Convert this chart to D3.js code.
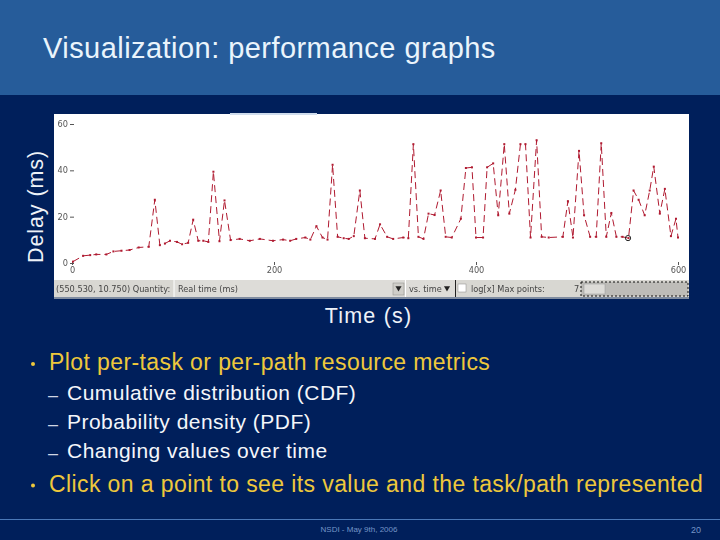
<!DOCTYPE html>
<html>
<head>
<meta charset="utf-8">
<script src="https://cdn.jsdelivr.net/npm/d3@7"></script>
<style>
  html, body { margin: 0; padding: 0; background: #001f5b; overflow: hidden; }
  svg { display: block; }
  text { font-family: "Liberation Sans", Arial, sans-serif; }
</style>
</head>
<body>
<script>
// values
const taskTimes = [1, 11, 18, 24, 34, 41, 49, 57, 66, 76, 82, 87, 92, 97, 104, 109, 115, 120, 125, 130, 135, 140, 146, 151, 157, 166, 176, 186, 199, 209, 216, 222, 231, 236, 242, 248, 253, 258, 263, 269, 274, 279, 285, 290, 300, 305, 312, 318, 328, 333, 338, 343, 348, 353, 359, 365, 370, 376, 385, 390, 396, 400, 407, 411, 417, 422, 428, 433, 439, 444, 449, 454, 460, 465, 472, 486, 491, 496, 502, 507, 513, 519, 524, 529, 534, 539, 545, 551, 556, 561, 567, 572, 576, 582, 587, 593, 598, 600];
const taskDelays = [0.6, 3.1, 3.4, 3.7, 3.7, 5, 5.3, 5.6, 6.7, 7, 27.3, 7.7, 8.4, 9.6, 9.1, 8.1, 8.7, 18.7, 9.6, 9.6, 9.1, 39.4, 9.4, 27, 9.9, 10.4, 9.6, 10.4, 9.6, 10.1, 9.6, 10.4, 11, 10.1, 15.9, 11, 10.1, 42.4, 11.3, 10.7, 10.4, 11.6, 31.3, 10.7, 10.4, 16.7, 11.3, 10.4, 11, 10.7, 51.3, 11.3, 10.4, 21.3, 20.7, 31.3, 11.3, 11, 19.1, 41, 41.3, 11, 11, 41.3, 43, 20.6, 51.3, 21.3, 31.6, 51.3, 51.3, 11, 53, 11.3, 11, 11.3, 26.7, 11, 48.4, 20.6, 11.3, 11.3, 51.7, 11.3, 21.6, 11.3, 11.3, 10.75, 31.3, 27.3, 20.6, 31.3, 41.6, 21.3, 32, 11.6, 19.1, 11];
const xTicks = [0, 200, 400, 600];
const yTicks = [0, 20, 40, 60];
const selectedPoint = [550.53, 10.75];

const subBullets = ["Cumulative distribution (CDF)", "Probability density (PDF)", "Changing values over time"];

const svg = d3.select("body").append("svg")
  .attr("width", 720)
  .attr("height", 540);

const defs = svg.append("defs");
defs.append("filter").attr("id", "soft")
  .append("feGaussianBlur").attr("stdDeviation", 0.4);

// slide background
svg.append("rect").attr("width", 720).attr("height", 540).attr("fill", "#001f5b");
svg.append("rect").attr("width", 720).attr("height", 95).attr("fill", "#265c9a");

svg.append("text")
  .attr("x", 43).attr("y", 58)
  .attr("font-size", 29)
  .attr("letter-spacing", 0.45)
  .attr("fill", "#eaf4fc")
  .text("Visualization: performance graphs");

// screenshot panel
const shot = svg.append("g").attr("filter", "url(#soft)");
shot.append("rect").attr("x", 54).attr("y", 114).attr("width", 635).attr("height", 166).attr("fill", "#ffffff");
shot.append("rect").attr("x", 230).attr("y", 113).attr("width", 87).attr("height", 2).attr("fill", "#cfdcec");

// toolbar under the plot
shot.append("rect").attr("x", 54).attr("y", 280).attr("width", 635).attr("height", 17).attr("fill", "#d8d7d2");
shot.append("rect").attr("x", 54).attr("y", 297).attr("width", 635).attr("height", 2).attr("fill", "#7f8ca0");
shot.append("rect").attr("x", 174).attr("y", 280).attr("width", 231).attr("height", 17).attr("fill", "#dddcd8");
shot.append("line").attr("x1", 174).attr("x2", 174).attr("y1", 280).attr("y2", 297).attr("stroke", "#ffffff");
shot.append("rect").attr("x", 393).attr("y", 283).attr("width", 11).attr("height", 12).attr("fill", "#cfcec9").attr("stroke", "#8a8a86").attr("stroke-width", 0.5);
shot.append("rect").attr("x", 406).attr("y", 280).attr("width", 50).attr("height", 17).attr("fill", "#dddcd8");
shot.append("line").attr("x1", 405.5).attr("x2", 405.5).attr("y1", 280).attr("y2", 297).attr("stroke", "#ffffff");
shot.append("line").attr("x1", 455.5).attr("x2", 455.5).attr("y1", 280).attr("y2", 297).attr("stroke", "#222222");
shot.append("rect").attr("x", 458).attr("y", 284).attr("width", 8).attr("height", 8).attr("fill", "#ffffff").attr("stroke", "#888888").attr("stroke-width", 0.5);
shot.append("rect").attr("x", 581).attr("y", 282).attr("width", 107).attr("height", 14).attr("fill", "#bdbcb8")
  .attr("stroke", "#111111").attr("stroke-dasharray", "2,2");
shot.append("rect").attr("x", 584).attr("y", 284).attr("width", 21).attr("height", 10).attr("fill", "#dddcd8").attr("stroke", "#999999").attr("stroke-width", 0.5);

const arrow = d3.symbol().type(d3.symbolTriangle).size(16);
[398.5, 447].forEach(px => {
  shot.append("path").attr("d", arrow()).attr("transform", `translate(${px},288) rotate(180)`).attr("fill", "#222222");
});

const toolbarTexts = [
  ["(550.530, 10.750)  Quantity:", 56],
  ["Real time (ms)", 178],
  ["vs. time", 409],
  ["log[x] Max points:", 471],
  ["7", 574]
];
shot.selectAll(".tool")
  .data(toolbarTexts)
  .join("text")
  .attr("class", "tool")
  .attr("x", d => d[1])
  .attr("y", 292)
  .attr("font-size", 8.2)
  .attr("fill", "#444444")
  .style("font-family", "DejaVu Sans")
  .text(d => d[0]);

// plot
const x = d3.scaleLinear().domain([0, 600]).range([72, 678]);
const y = d3.scaleLinear().domain([0, 60]).range([263, 124]);

const xAxis = shot.append("g")
  .attr("transform", "translate(0,262)")
  .call(d3.axisBottom(x).tickValues(xTicks).tickSize(3).tickPadding(2));
const yAxis = shot.append("g")
  .attr("transform", "translate(70,0)")
  .call(d3.axisLeft(y).tickValues(yTicks).tickSizeInner(-4).tickSizeOuter(0).tickPadding(2));
[xAxis, yAxis].forEach(a => {
  a.select(".domain").remove();
  a.selectAll("text").attr("fill", "#555555").attr("font-size", 8.2).style("font-family", "DejaVu Sans");
  a.selectAll("line").attr("stroke", "#555555");
});

const points = taskTimes.map((t, i) => [t, taskDelays[i]]);

shot.append("path")
  .datum(points)
  .attr("fill", "none")
  .attr("stroke", "#b01a30")
  .attr("stroke-width", 1)
  .attr("stroke-dasharray", "7,4")
  .attr("d", d3.line().x(d => x(d[0])).y(d => y(d[1])));

shot.selectAll(".pt")
  .data(points)
  .join("rect")
  .attr("class", "pt")
  .attr("x", d => x(d[0]) - 1)
  .attr("y", d => y(d[1]) - 1)
  .attr("width", 2)
  .attr("height", 2)
  .attr("fill", "#b01a30");

shot.append("circle")
  .attr("cx", x(selectedPoint[0]))
  .attr("cy", y(selectedPoint[1]))
  .attr("r", 2.6)
  .attr("fill", "none")
  .attr("stroke", "#222222")
  .attr("stroke-width", 1);

// axis captions
svg.append("text")
  .attr("transform", "translate(43,206.5) rotate(-90)")
  .attr("text-anchor", "middle")
  .attr("font-size", 21.5)
  .attr("letter-spacing", 0.9)
  .attr("fill", "#eef2f8")
  .text("Delay (ms)");

svg.append("text")
  .attr("x", 368.5).attr("y", 323)
  .attr("text-anchor", "middle")
  .attr("font-size", 21.5)
  .attr("letter-spacing", 1.2)
  .attr("fill", "#eef2f8")
  .text("Time (s)");

// bullets
const bullets = [
  ["Plot per-task or per-path resource metrics", 370],
  ["Click on a point to see its value and the task/path represented", 491.5]
];
svg.selectAll(".bullet")
  .data(bullets)
  .join("text")
  .attr("class", "bullet")
  .attr("x", 49)
  .attr("y", d => d[1])
  .attr("font-size", 23)
  .attr("letter-spacing", 0.4)
  .attr("fill", "#eec83c")
  .text(d => d[0]);
svg.selectAll(".dot")
  .data(bullets)
  .join("circle")
  .attr("class", "dot")
  .attr("cx", 33)
  .attr("cy", d => d[1] - 6)
  .attr("r", 2)
  .attr("fill", "#eec83c");

const subY = d3.scalePoint().domain(subBullets).range([400, 457.5]);
svg.selectAll(".sub")
  .data(subBullets)
  .join("text")
  .attr("class", "sub")
  .attr("x", 67)
  .attr("y", d => subY(d))
  .attr("font-size", 21)
  .attr("letter-spacing", 0.48)
  .attr("fill", "#f4f6fa")
  .text(d => d);
svg.selectAll(".dash")
  .data(subBullets)
  .join("text")
  .attr("class", "dash")
  .attr("x", 48)
  .attr("y", d => subY(d) + 1)
  .attr("font-size", 18)
  .attr("fill", "#d0d6e4")
  .text("–");

// footer
svg.append("line")
  .attr("x1", 0).attr("x2", 720).attr("y1", 519.5).attr("y2", 519.5)
  .attr("stroke", "#4a78b8").attr("stroke-width", 1);
svg.append("text")
  .attr("x", 359).attr("y", 532)
  .attr("text-anchor", "middle")
  .attr("font-size", 8)
  .attr("fill", "#7595c8")
  .text("NSDI - May 9th, 2006");
svg.append("text")
  .attr("x", 696).attr("y", 533)
  .attr("text-anchor", "middle")
  .attr("font-size", 9)
  .attr("fill", "#7595c8")
  .text("20");
</script>
</body>
</html>
